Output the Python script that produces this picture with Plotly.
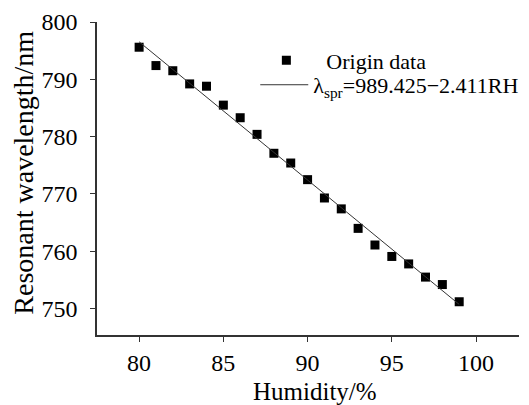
import plotly.graph_objects as go

# Data
humidity = [80, 81, 82, 83, 84, 85, 86, 87, 88, 89, 90, 91, 92, 93, 94, 95, 96, 97, 98, 99]
wavelength = [795.6, 792.4, 791.5, 789.2, 788.8, 785.5, 783.3, 780.4, 777.1, 775.4,
              772.5, 769.3, 767.4, 764.0, 761.1, 759.1, 757.8, 755.5, 754.2, 751.2]
fit_intercept = 989.425
fit_slope = -2.411
fit_x = [80, 99]
fit_y = [fit_intercept + fit_slope * x for x in fit_x]

x_ticks = [80, 85, 90, 95, 100]
y_ticks = [750, 760, 770, 780, 790, 800]

FONT = "Liberation Serif"

fig = go.Figure()
fig.add_trace(go.Scatter(
    x=humidity, y=wavelength, mode="markers",
    name="\u00a0\u00a0Origin data",
    marker=dict(symbol="square", size=9, color="black"),
    legend="legend",
))
fig.add_trace(go.Scatter(
    x=fit_x, y=fit_y, mode="lines",
    name="\u03bb<sub>spr</sub>=989.425\u22122.411RH",
    line=dict(color="#333333", width=1),
    legend="legend2",
))

axis_common = dict(
    showgrid=False, zeroline=False, showline=True,
    linecolor="#333333", linewidth=1.5,
    ticks="outside", ticklen=5, tickwidth=1.2, tickcolor="#333333",
    tickfont=dict(family=FONT, size=24, color="black"),
)

legend_common = dict(
    xanchor="left", yanchor="top",
    font=dict(family=FONT, size=22, color="black"),
    bgcolor="rgba(0,0,0,0)", itemwidth=48,
)

fig.update_layout(
    width=529, height=405,
    margin=dict(l=97, r=10, t=22, b=70, autoexpand=False),
    paper_bgcolor="white", plot_bgcolor="white",
    font=dict(family=FONT, color="black"),
    showlegend=True,
    legend=dict(x=0.38, y=0.944, **legend_common),
    legend2=dict(x=0.375, y=0.866, **legend_common),
    xaxis=dict(
        range=[77.5, 102.55], tickvals=x_ticks,
        ticklabelstandoff=0,
        **axis_common,
    ),
    yaxis=dict(
        range=[745.4, 800], tickvals=y_ticks,
        ticklabelstandoff=8,
        **axis_common,
    ),
    annotations=[
        dict(
            text="Resonant wavelength/nm", textangle=-90,
            xref="paper", yref="paper", x=-0.175, y=0.519,
            xanchor="center", yanchor="middle", showarrow=False,
            font=dict(family=FONT, size=28, color="black"),
        ),
        dict(
            text="Humidity/%",
            xref="paper", yref="paper", x=0.517, y=-0.18,
            xanchor="center", yanchor="middle", showarrow=False,
            font=dict(family=FONT, size=25, color="black"),
        ),
    ],
)

fig.write_html("out.html")
